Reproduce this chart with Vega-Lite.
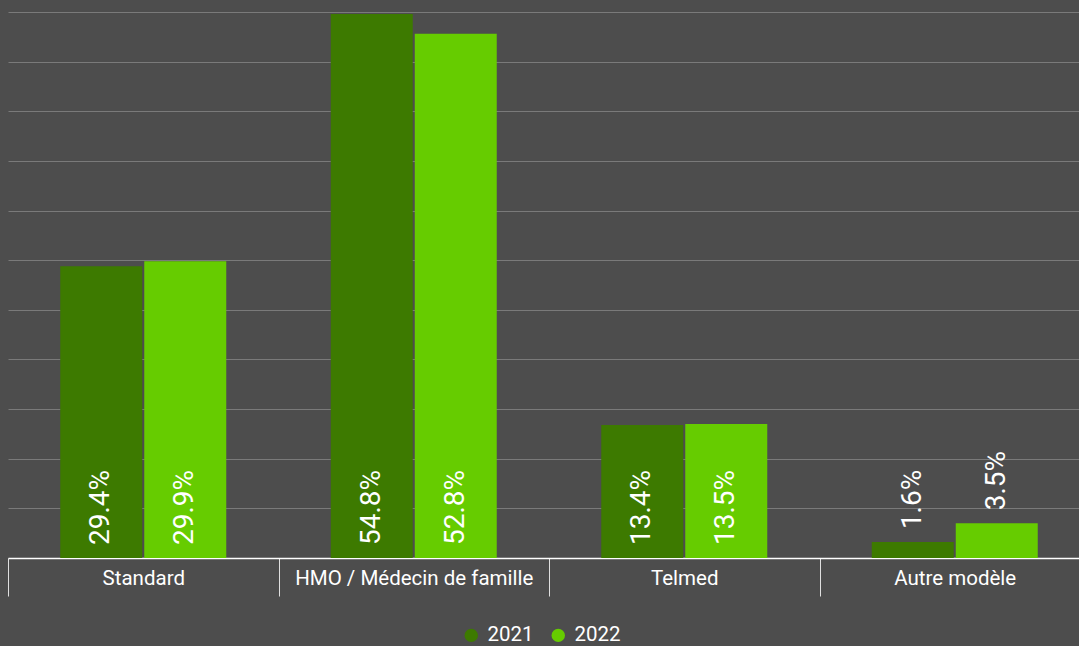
{
  "$schema": "https://vega.github.io/schema/vega-lite/v6.json",
  "width": 1071,
  "height": 546,
  "autosize": "none",
  "padding": {"left": 8, "top": 12, "right": 0, "bottom": 88},
  "background": "#4d4d4d",
  "config": {"view": {"stroke": null}, "font": "Roboto"},
  "data": {"values": [
    {"model": "Standard", "year": "2021", "value": 0.294},
    {"model": "Standard", "year": "2022", "value": 0.299},
    {"model": "HMO / Médecin de famille", "year": "2021", "value": 0.548},
    {"model": "HMO / Médecin de famille", "year": "2022", "value": 0.528},
    {"model": "Telmed", "year": "2021", "value": 0.134},
    {"model": "Telmed", "year": "2022", "value": 0.135},
    {"model": "Autre modèle", "year": "2021", "value": 0.016},
    {"model": "Autre modèle", "year": "2022", "value": 0.035}
  ]},
  "encoding": {
    "x": {
      "field": "model", "type": "nominal",
      "sort": ["Standard", "HMO / Médecin de famille", "Telmed", "Autre modèle"],
      "scale": {"paddingInner": 0, "paddingOuter": 0, "range": [0, 1082]},
      "axis": {
        "title": null, "labelAngle": 0, "grid": false,
        "domainColor": "#ffffff", "domainWidth": 1.5,
        "tickColor": "#e0e0e0", "tickSize": 38, "tickWidth": 1, "tickBand": "extent",
        "labelPadding": -28, "labelBaseline": "top", "labelLimit": 0,
        "labelColor": "#ffffff", "labelFontSize": 20.5, "labelFont": "Roboto"
      }
    },
    "xOffset": {
      "field": "year", "type": "nominal",
      "scale": {"paddingInner": 0.024, "paddingOuter": 0.622}
    }
  },
  "layer": [
    {
      "mark": {"type": "bar"},
      "encoding": {
        "y": {
          "field": "value", "type": "quantitative",
          "scale": {"domain": [0, 0.55], "nice": false},
          "axis": {
            "title": null, "labels": false, "ticks": false, "domain": false,
            "grid": true, "gridColor": "#7a7a7a", "gridWidth": 1,
            "values": [0, 0.05, 0.1, 0.15, 0.2, 0.25, 0.3, 0.35, 0.4, 0.45, 0.5, 0.55]
          }
        },
        "color": {
          "field": "year", "type": "nominal",
          "scale": {"domain": ["2021", "2022"], "range": ["#3d7a00", "#66cc00"]},
          "legend": {
            "title": null, "orient": "none", "direction": "horizontal",
            "legendX": 453, "legendY": 613,
            "symbolType": "circle", "symbolSize": 180, "symbolStrokeWidth": 0,
            "labelColor": "#ffffff", "labelFontSize": 20.5, "labelFont": "Roboto",
            "labelOffset": 6, "columnPadding": 14
          }
        }
      }
    },
    {
      "transform": [{"filter": "datum.value >= 0.05"}],
      "mark": {"type": "text", "angle": 270, "align": "left", "baseline": "middle", "dx": 13, "fontSize": 28, "color": "#ffffff"},
      "encoding": {
        "y": {"datum": 0, "type": "quantitative"},
        "text": {"field": "value", "type": "quantitative", "format": ".1%"}
      }
    },
    {
      "transform": [{"filter": "datum.value < 0.05"}],
      "mark": {"type": "text", "angle": 270, "align": "left", "baseline": "middle", "dx": 13, "fontSize": 28, "color": "#ffffff"},
      "encoding": {
        "y": {"field": "value", "type": "quantitative"},
        "text": {"field": "value", "type": "quantitative", "format": ".1%"}
      }
    }
  ]
}
